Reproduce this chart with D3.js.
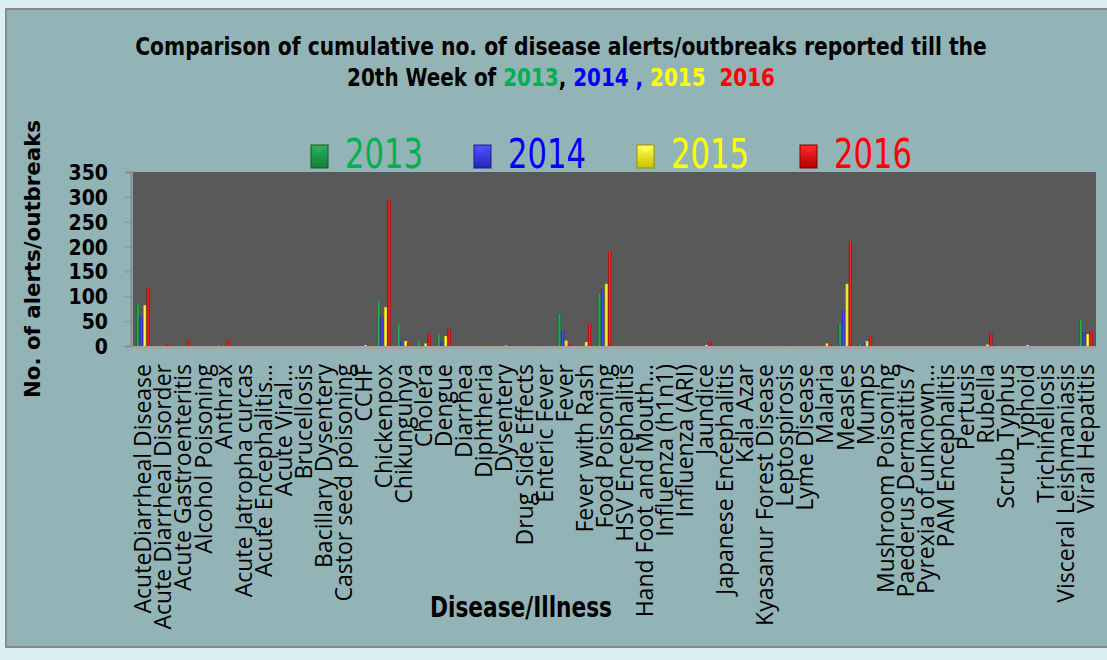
<!DOCTYPE html>
<html>
<head>
<meta charset="utf-8">
<script src="https://cdn.jsdelivr.net/npm/d3@7"></script>
<style>
  body { margin: 0; background: #dbeef3; }
  svg { display: block; }
  text { white-space: pre; }
</style>
</head>
<body>
<div id="chart"></div>
<script>
const categories = [
  "AcuteDiarrheal Disease", "Acute Diarrheal Disorder", "Acute Gastroenteritis", "Alcohol Poisoning",
  "Anthrax", "Acute Jatropha curcas", "Acute Encephalitis…", "Acute Viral…", "Brucellosis",
  "Bacillary Dysentery", "Castor seed poisoning", "CCHF", "Chickenpox", "Chikungunya", "Cholera",
  "Dengue", "Diarrhea", "Diphtheria", "Dysentery", "Drug Side Effects", "Enteric Fever", "Fever",
  "Fever with Rash", "Food Poisoning", "HSV Encephalitis", "Hand Foot and Mouth…", "Influenza (h1n1)",
  "Influenza (ARI)", "Jaundice", "Japanese Encephalitis", "Kala Azar", "Kyasanur Forest Disease",
  "Leptospirosis", "Lyme Disease", "Malaria", "Measles", "Mumps", "Mushroom Poisoning",
  "Paederus Dermatitis /", "Pyrexia of unknown…", "PAM Encephalitis", "Pertusis", "Rubella",
  "Scrub Typhus", "Typhoid", "Trichinellosis", "Visceral Leishmaniasis", "Viral Hepatitis"
];
const years = ["2013", "2014", "2015", "2016"];
const v2013 = [84,0,0,0,3,0,0,0,0,0,0,0,90,44,9,23,0,0,0,0,0,64,0,104,0,0,0,0,0,0,0,0,1,0,1,45,5,0,0,0,0,0,1,0,0,0,0,52];
const v2014 = [60,0,0,0,0,0,0,0,0,0,0,0,59,9,2,10,0,0,0,0,2,32,0,114,0,0,0,0,0,0,0,0,0,0,0,72,7,0,0,0,0,0,0,0,0,0,0,28];
const v2015 = [82,0,0,0,0,0,0,0,0,0,0,2,78,10,5,20,0,0,1,0,0,11,8,125,0,0,0,0,2,0,0,0,0,0,5,125,10,0,0,0,0,0,3,0,2,0,0,24];
const v2016 = [117,4,12,0,13,0,0,0,0,0,0,1,294,7,26,34,0,2,0,0,0,5,46,189,0,0,0,0,9,0,0,0,2,0,4,211,20,0,0,0,0,0,25,0,0,0,0,31];
const yTicks = [0, 50, 100, 150, 200, 250, 300, 350];

const series = [v2013, v2014, v2015, v2016];
const barColors = {
  "2013": ["#0b5e28", "#2fae58", "#10803a"],
  "2014": ["#1a1a8c", "#5050ff", "#2626b8"],
  "2015": ["#9a9400", "#ffff50", "#c8c200"],
  "2016": ["#800000", "#ff2a2a", "#b30000"]
};
const textColors = { "2013": "#00b050", "2014": "#0000ff", "2015": "#ffff00", "2016": "#ff0000" };

const W = 1107, H = 660;
const plot = { left: 133, right: 1096, top: 172, bottom: 346 };
const narrow = "'Liberation Sans Narrow', 'Arial Narrow', 'DejaVu Sans Condensed', sans-serif";

const svg = d3.select("#chart").append("svg")
  .attr("width", W).attr("height", H);

// squeeze a text horizontally so it spans the given width, centred on cx
function fitWidth(sel, cx, y, target) {
  const len = sel.node().getComputedTextLength();
  sel.attr("x", 0).attr("y", 0)
    .attr("transform", `translate(${cx},${y}) scale(${target / len},1)`);
}

// gradients for the cylinder-ish bars
const defs = svg.append("defs");
years.forEach(y => {
  const g = defs.append("linearGradient").attr("id", "g" + y)
    .attr("x1", 0).attr("x2", 1).attr("y1", 0).attr("y2", 0);
  g.append("stop").attr("offset", "0%").attr("stop-color", barColors[y][0]);
  g.append("stop").attr("offset", "45%").attr("stop-color", barColors[y][1]);
  g.append("stop").attr("offset", "100%").attr("stop-color", barColors[y][2]);
  const lg = defs.append("linearGradient").attr("id", "l" + y)
    .attr("x1", 0).attr("x2", 0).attr("y1", 0).attr("y2", 1);
  lg.append("stop").attr("offset", "0%").attr("stop-color", barColors[y][1]);
  lg.append("stop").attr("offset", "100%").attr("stop-color", barColors[y][2]);
});

// chart frame
svg.append("rect")
  .attr("x", 6).attr("y", 9).attr("width", 1120).attr("height", 638)
  .attr("fill", "#93b4b6").attr("stroke", "#8a8a8a").attr("stroke-width", 2);

// title
const title = svg.append("g").attr("font-family", narrow).attr("font-weight", "bold")
  .attr("text-anchor", "middle").attr("font-size", 25);
const t1 = title.append("text")
  .text("Comparison of cumulative no. of disease alerts/outbreaks reported till the");
fitWidth(t1, 561, 55, 852);
const t2 = title.append("text");
t2.append("tspan").attr("fill", "#000").text("20th Week of ");
t2.append("tspan").attr("fill", textColors["2013"]).text("2013");
t2.append("tspan").attr("fill", "#000").text(", ");
t2.append("tspan").attr("fill", textColors["2014"]).text("2014 , ");
t2.append("tspan").attr("fill", textColors["2015"]).text("2015  ");
t2.append("tspan").attr("fill", textColors["2016"]).text("2016");
fitWidth(t2, 561, 86, 428);

// legend
const legend = svg.append("g");
const lx = d3.scaleBand().domain(years).range([311, 963]);
years.forEach(y => {
  const x = lx(y);
  legend.append("rect").attr("x", x).attr("y", 145).attr("width", 17).attr("height", 23)
    .attr("fill", "url(#l" + y + ")").attr("stroke", barColors[y][0]).attr("stroke-width", 1);
  legend.append("path")
    .attr("d", `M${x + 1},${146}L${x + 8.5},${153}L${x + 16},${146}Z`)
    .attr("fill", barColors[y][1]).attr("opacity", 0.7);
  legend.append("text").attr("x", x + 34).attr("y", 168)
    .attr("font-family", narrow).attr("font-size", 40)
    .attr("textLength", 78).attr("lengthAdjust", "spacingAndGlyphs")
    .attr("fill", textColors[y]).text(y);
});

// scales
const x0 = d3.scaleBand().domain(categories).range([plot.left, plot.right])
  .paddingInner(0.3).paddingOuter(0.15);
const x1 = d3.scaleBand().domain(years).range([0, x0.bandwidth()]).padding(0.05);
const yScale = d3.scaleLinear().domain([0, 350]).range([plot.bottom, plot.top]);

// plot area
svg.append("rect").attr("x", plot.left).attr("y", plot.top)
  .attr("width", plot.right - plot.left).attr("height", plot.bottom - plot.top)
  .attr("fill", "#595959");
svg.append("rect").attr("x", plot.left).attr("y", plot.bottom)
  .attr("width", plot.right - plot.left).attr("height", 3)
  .attr("fill", "#a3a3a3");

// bars
const groups = svg.append("g").selectAll("g")
  .data(categories.map((c, i) => ({ c, vals: series.map((s, k) => ({ year: years[k], v: s[i] })) })))
  .join("g")
  .attr("transform", d => `translate(${x0(d.c)},0)`);
groups.selectAll("rect")
  .data(d => d.vals.filter(e => e.v > 0))
  .join("rect")
  .attr("x", d => x1(d.year))
  .attr("width", x1.bandwidth())
  .attr("y", d => yScale(d.v))
  .attr("height", d => plot.bottom - yScale(d.v))
  .attr("fill", d => "url(#g" + d.year + ")");

// y axis
const yAxis = svg.append("g").attr("transform", `translate(${plot.left - 2},0)`)
  .call(d3.axisLeft(yScale).tickValues(yTicks).tickSize(6).tickPadding(17));
yAxis.select(".domain").attr("stroke", "#8a8a8a").attr("stroke-width", 2);
yAxis.selectAll(".tick line").attr("stroke", "#8a8a8a");
yAxis.selectAll(".tick text").attr("font-family", narrow).attr("font-weight", "bold")
  .attr("font-size", 21).attr("fill", "#000").attr("dy", "0.36em");

// x axis labels
const xAxis = svg.append("g").attr("transform", `translate(0,${plot.bottom})`)
  .call(d3.axisBottom(x0).tickSize(0).tickPadding(0));
xAxis.select(".domain").remove();
xAxis.selectAll(".tick text")
  .attr("font-family", "'Open Sans', sans-serif").attr("font-size", 23)
  .attr("fill", "#000")
  .attr("text-anchor", "end")
  .attr("transform", "translate(0,18) rotate(-90)")
  .attr("x", 0).attr("y", 0).attr("dy", "0.36em");

// axis titles
svg.append("text")
  .attr("transform", "translate(40,259) rotate(-90)")
  .attr("text-anchor", "middle")
  .attr("font-family", "'DejaVu Sans', Verdana, sans-serif").attr("font-weight", "bold")
  .attr("font-size", 21)
  .attr("textLength", 278).attr("lengthAdjust", "spacingAndGlyphs")
  .text("No. of alerts/outbreaks");
svg.append("text")
  .attr("x", 521).attr("y", 617)
  .attr("text-anchor", "middle")
  .attr("font-family", narrow).attr("font-weight", "bold")
  .attr("font-size", 28)
  .attr("textLength", 182).attr("lengthAdjust", "spacingAndGlyphs")
  .text("Disease/Illness");
</script>
</body>
</html>
